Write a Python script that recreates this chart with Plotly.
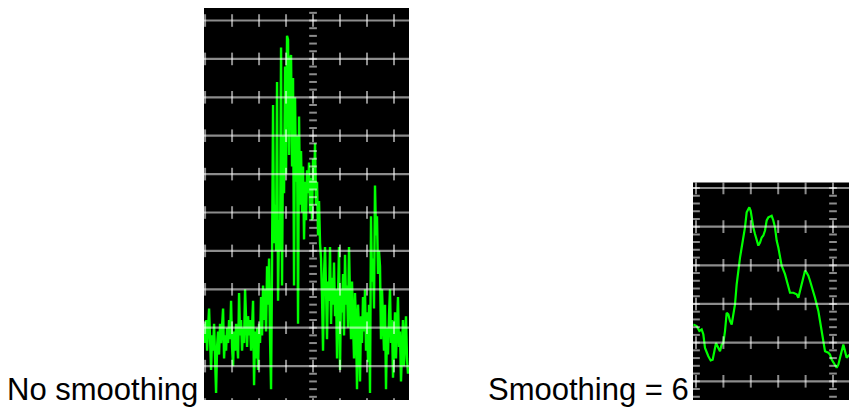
import numpy as np
import plotly.graph_objects as go

# ---------------- data ----------------
# Left panel: unsmoothed spectrum, one value per frequency bin (dB)
raw_db = [
    -79, -84, -78, -86, -80, -75, -83, -91, -82, -86,
    -79, -88, -97, -85, -81, -87, -79, -84, -78, -75,
    -88, -82, -86, -80, -84, -78, -83, -73, -85, -90,
    -81, -86, -79, -84, -88, -71, -82, -78, -86, -80,
    -84, -70, -79, -85, -77, -82, -78, -86, -80, -73,
    -95, -81,
    -88, -80, -91, -79, -84, -72, -82, -69, -78, -70,
    -81, -64, -74, -62, -83, -96, -63, -22, -58, -48,
    -60, -16, -73, -52, -60, -7, -69, -30, -45, -12,
    -40, -4, -5, -35, -10, -9, -38, -15, -69, -20,
    -42, -30, -79, -25, -48, -34, -50, -38, -57, -42,
    -52, -39,
    -45, -37, -50, -41, -52, -36, -44, -32, -48, -42,
    -56, -47, -58, -62, -72, -86, -66, -59, -70, -83,
    -68, -73, -59, -79, -67, -74, -63, -77, -70, -88,
    -72, -59, -91, -70, -76, -66, -82, -61, -74, -69,
    -80, -59, -72, -83, -68, -77, -88, -71, -79, -96,
    -74, -80,
    -94, -77, -84, -72, -81, -70, -86, -76, -89, -74,
    -97, -51, -68, -62, -75, -43, -56, -51, -66, -60,
    -64, -83, -70, -78, -86, -74, -96, -80, -87, -77,
    -70, -84, -78, -93, -82, -76, -88, -79, -72, -85,
    -81, -94, -83, -78, -90, -82, -77, -88, -92,
]
raw_bin_start = -109      # bin index of the left edge relative to centre
bins_per_div = 27.0       # frequency bins per horizontal division

# Right panel: smoothed (6) trace, frequency in divisions, level in dB
smooth_freq = [
    -0.097, 0.024, 0.122, 0.207, 0.268, 0.328, 0.45, 0.535, 0.608, 0.657,
    0.73, 0.815, 0.876, 0.937, 0.998, 1.058, 1.119, 1.18, 1.241, 1.302,
    1.363, 1.423, 1.484, 1.545, 1.606, 1.667, 1.727, 1.788, 1.849, 1.946,
    1.995, 2.032, 2.092, 2.153, 2.214, 2.275, 2.336, 2.397, 2.457, 2.518,
    2.579, 2.64, 2.762, 2.822, 2.883, 2.944, 3.005, 3.066, 3.126, 3.248,
    3.309, 3.37, 3.431, 3.552, 3.674, 3.735, 3.796, 3.856, 3.917, 3.978,
    4.039, 4.1, 4.161, 4.282, 4.343, 4.404, 4.465, 4.526, 4.586, 4.647,
    4.708, 4.83, 4.891, 4.951, 5.012, 5.073, 5.134, 5.195, 5.255, 5.316,
    5.377, 5.438, 5.499, 5.596,
]
smooth_db = [
    -75.3, -75.7, -77.0, -76.6, -77.9, -81.4, -83.5, -84.6, -84.4, -82.2,
    -80.1, -81.4, -82.2, -80.5, -80.1, -77.0, -72.3, -72.7, -74.4, -75.3,
    -72.7, -70.1, -64.9, -60.6, -58.0, -55.4, -53.2, -50.2, -46.3, -45.0,
    -45.9, -48.0, -50.2, -51.9, -53.6, -54.9, -54.1, -52.8, -52.3, -51.0,
    -48.4, -47.6, -47.2, -48.4, -50.2, -53.6, -55.4, -58.0, -60.1, -62.3,
    -64.0, -65.8, -67.1, -67.1, -67.5, -68.4, -66.6, -64.9, -63.2, -61.4,
    -61.9, -62.7, -64.0, -66.6, -68.4, -70.1, -71.8, -74.4, -77.0, -80.1,
    -82.2, -82.6, -83.1, -84.4, -85.2, -86.1, -86.5, -85.7, -83.9, -82.2,
    -80.5, -82.2, -83.9, -83.1,
]

labels = ["No smoothing", "Smoothing = 6"]

# ---------------- figure ----------------
W, H = 849, 407
GREEN = "#00ff00"
GRID = "rgba(255,255,255,0.55)"

raw_freq = (np.arange(len(raw_db)) + raw_bin_start) / bins_per_div

left_xr = [-4.04, 3.556]
left_yr = [-98.83, 3.26]
right_xr = [-0.11, 5.584]
right_yr = [-94.84, -38.58]

fig = go.Figure()

fig.add_trace(go.Scatter(x=raw_freq, y=raw_db, mode="lines",
                         line=dict(color=GREEN, width=2.4),
                         xaxis="x", yaxis="y", hoverinfo="skip"))
fig.add_trace(go.Scatter(x=smooth_freq, y=smooth_db, mode="lines",
                         line=dict(color=GREEN, width=2.2),
                         xaxis="x2", yaxis="y2", hoverinfo="skip"))


def graticule(xr, yr, grid_levels, cross_x, axis_x, xa, ya):
    gx, gy = [], []
    for g in grid_levels:
        gx += [xr[0], xr[1], None]
        gy += [g, g, None]
    fig.add_trace(go.Scatter(x=gx, y=gy, mode="lines",
                             line=dict(color=GRID, width=2.2),
                             xaxis=xa, yaxis=ya, hoverinfo="skip"))
    cx, cy = [], []
    for g in grid_levels:
        for c in cross_x:
            cx.append(c)
            cy.append(g)
    fig.add_trace(go.Scatter(x=cx, y=cy, mode="markers",
                             marker=dict(symbol="line-ns", size=9,
                                         line=dict(color=GRID, width=2)),
                             xaxis=xa, yaxis=ya, hoverinfo="skip"))
    dx, dy = [], []
    steps = np.arange(min(grid_levels), max(grid_levels) + 0.01, 2.0)
    for a in axis_x:
        for s in steps:
            dx.append(a)
            dy.append(s)
    fig.add_trace(go.Scatter(x=dx, y=dy, mode="markers",
                             marker=dict(symbol="line-ew", size=5.5,
                                         line=dict(color=GRID, width=2)),
                             xaxis=xa, yaxis=ya, hoverinfo="skip"))


graticule(left_xr, left_yr, list(range(-100, 11, 10)), list(range(-4, 4)), [0], "x", "y")
graticule(right_xr, right_yr, list(range(-100, -29, 10)), list(range(0, 6)), [0, 5], "x2", "y2")

ax_common = dict(showgrid=False, zeroline=False, showticklabels=False,
                 ticks="", showline=False, fixedrange=True)

fig.update_layout(
    width=W, height=H,
    margin=dict(l=0, r=0, t=0, b=0),
    paper_bgcolor="white",
    plot_bgcolor="black",
    showlegend=False,
    xaxis=dict(domain=[204 / W, 409 / W], range=left_xr, anchor="y", **ax_common),
    yaxis=dict(domain=[1 - 400 / H, 1 - 8 / H], range=left_yr, anchor="x", **ax_common),
    xaxis2=dict(domain=[693 / W, 1.0], range=right_xr, anchor="y2", **ax_common),
    yaxis2=dict(domain=[1 - 400 / H, 1 - 182.5 / H], range=right_yr, anchor="x2", **ax_common),
    annotations=[
        dict(text=labels[0], xref="paper", yref="paper", x=5 / W, y=1 - 389.8 / H,
             xanchor="left", yanchor="middle", showarrow=False,
             font=dict(family="Liberation Sans, Arial, sans-serif", size=31, color="black")),
        dict(text=labels[1], xref="paper", yref="paper", x=486 / W, y=1 - 389.8 / H,
             xanchor="left", yanchor="middle", showarrow=False,
             font=dict(family="Liberation Sans, Arial, sans-serif", size=31, color="black")),
    ],
)

fig.write_html("out.html")
